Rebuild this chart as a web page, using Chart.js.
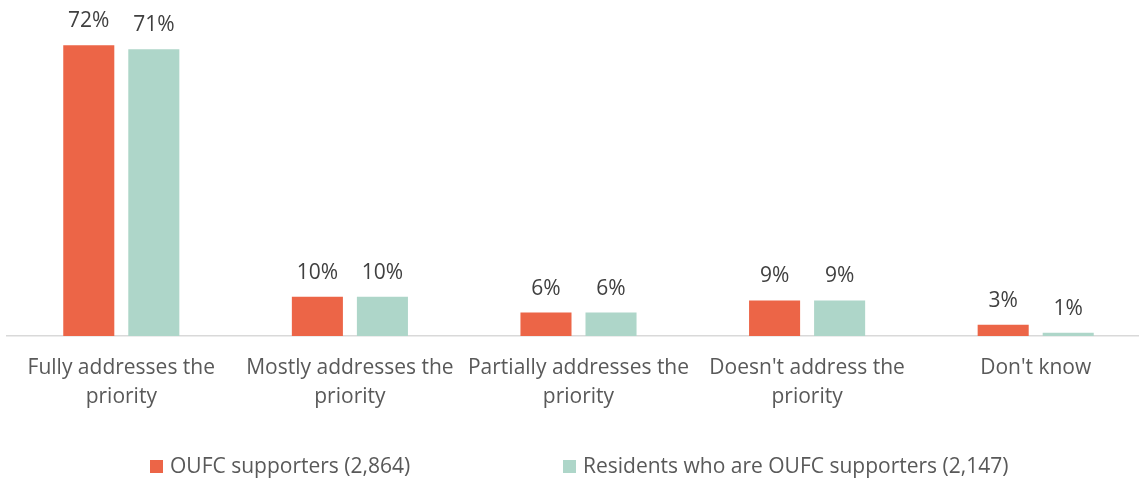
<!DOCTYPE html>
<html>
<head>
<meta charset="utf-8">
<script src="https://cdn.jsdelivr.net/npm/chart.js@4"></script>
<style>
html,body{margin:0;padding:0;background:#fff;overflow:hidden;}
#wrap{position:relative;width:1139px;height:479px;overflow:hidden;}
</style>
</head>
<body>
<div id="wrap"><canvas id="c" width="1150" height="479"></canvas></div>
<script>
const categories = [
  ['Fully addresses the', 'priority'],
  ['Mostly addresses the', 'priority'],
  ['Partially addresses the', 'priority'],
  ["Doesn't address the", 'priority'],
  ["Don't know"]
];
const seriesNames = ['OUFC supporters (2,864)', 'Residents who are OUFC supporters (2,147)'];
const oufcSupporters = [72, 9.7, 5.8, 8.8, 2.8];
const residentSupporters = [71, 9.7, 5.8, 8.8, 0.8];
const oufcLabels = ['72%', '10%', '6%', '9%', '3%'];
const residentLabels = ['71%', '10%', '6%', '9%', '1%'];
const colors = ['#EC6547', '#AED6C9'];
const FONT = '"Open Sans", sans-serif';
const FS = 21;

const valueLabelPlugin = {
  id: 'valueLabels',
  afterDatasetsDraw(chart) {
    const ctx = chart.ctx;
    ctx.save();
    ctx.font = FS + 'px ' + FONT;
    ctx.fillStyle = '#404040';
    ctx.textAlign = 'center';
    ctx.textBaseline = 'middle';
    chart.data.datasets.forEach((ds, i) => {
      const meta = chart.getDatasetMeta(i);
      meta.data.forEach((bar, j) => {
        ctx.fillText(ds.valueLabels[j], bar.x, bar.y - 24);
      });
    });
    ctx.restore();
  }
};

const legendPlugin = {
  id: 'customLegend',
  afterDraw(chart) {
    const ctx = chart.ctx;
    ctx.save();
    ctx.font = FS + 'px ' + FONT;
    ctx.textBaseline = 'middle';
    ctx.textAlign = 'left';
    const xs = [150, 563];
    const y = 467;
    chart.data.datasets.forEach((ds, i) => {
      ctx.fillStyle = ds.backgroundColor;
      ctx.fillRect(xs[i], y - 7, 13, 13);
      ctx.fillStyle = '#595959';
      ctx.fillText(ds.label, xs[i] + 20, y);
    });
    ctx.restore();
  }
};

new Chart(document.getElementById('c'), {
  type: 'bar',
  data: {
    labels: categories,
    datasets: [
      { label: seriesNames[0], data: oufcSupporters, backgroundColor: colors[0], valueLabels: oufcLabels },
      { label: seriesNames[1], data: residentSupporters, backgroundColor: colors[1], valueLabels: residentLabels }
    ]
  },
  options: {
    responsive: false,
    animation: false,
    layout: { padding: { top: 13, left: 7, right: 0, bottom: 49 } },
    categoryPercentage: 0.569,
    barPercentage: 0.785,
    plugins: {
      legend: { display: false },
      tooltip: { enabled: false }
    },
    scales: {
      x: {
        grid: { display: false, drawTicks: false },
        border: { display: true, color: '#D9D9D9', width: 1.5 },
        ticks: {
          color: '#595959',
          font: { family: FONT, size: FS, lineHeight: '29px' },
          padding: 18,
          maxRotation: 0,
          autoSkip: false
        }
      },
      y: {
        display: false,
        min: 0,
        max: 80
      }
    }
  },
  plugins: [valueLabelPlugin, legendPlugin]
});
</script>
</body>
</html>
